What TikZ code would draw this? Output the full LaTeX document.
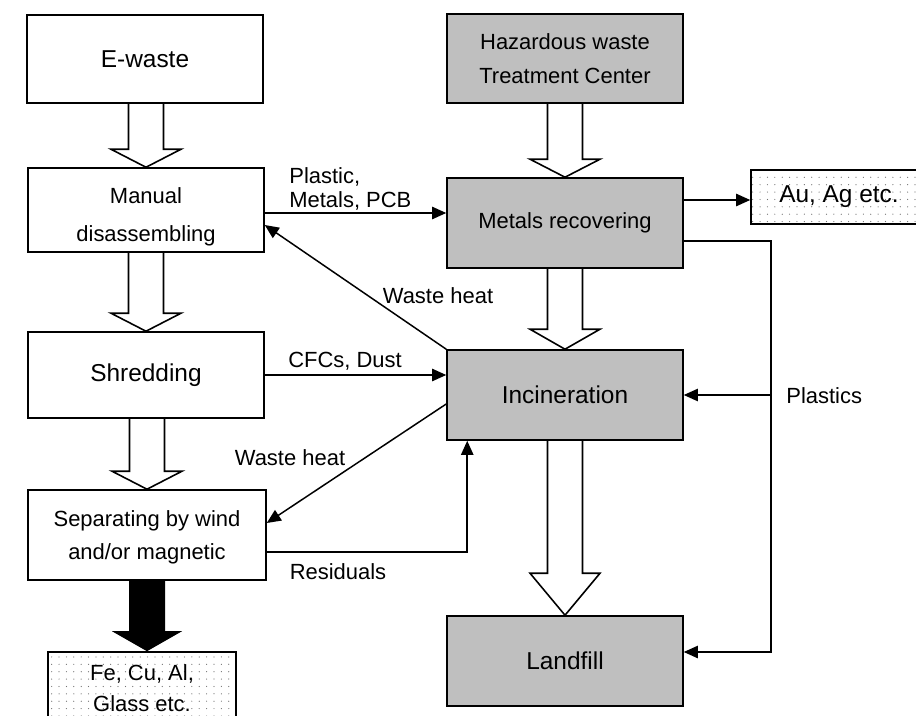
\documentclass[tikz,border=0pt]{standalone}
\usepackage{fontspec}
\setmainfont{Liberation Sans}
\usetikzlibrary{arrows.meta,calc,patterns.meta}
\newcommand{\txt}{\fontsize{12.5}{19}\selectfont}
\newcommand{\bigtxt}{\fontsize{13.9}{19}\selectfont}
\begin{document}
\begin{tikzpicture}[x=0.02cm, y=-0.02cm, line join=miter, >={Triangle[length=8pt,width=7pt]},
	box/.style={draw, line width=0.9pt, minimum width=4.72cm, align=center, font=\txt},
	grey/.style={box, fill=black!25},
	dotbox/.style={pattern={Dots[distance=4.2pt,radius=0.35pt]}, pattern color=black!55},
	hollow/.style={draw, line width=0.9pt},
	flow/.style={->, line width=0.85pt},
	lbl/.style={font=\txt, inner sep=0pt}]
	\useasboundingbox (0,0) rectangle (916,716);
	\clip (0,0) rectangle (916,716);
	% left column
	\node[box, font=\bigtxt, minimum height=1.76cm] (ewaste) at (145,59) {E-waste};
	\node[box, minimum height=1.6cm, font={\fontsize{12.5}{21.5}\selectfont}] (manual) at (146,210) {\rule{0pt}{17pt}Manual\\disassembling};
	\node[box, font=\bigtxt, minimum height=1.72cm] (shred) at (146,375) {Shredding};
	\node[box, minimum height=1.8cm, minimum width=4.76cm, font={\fontsize{12.5}{18.7}\selectfont}] (sep) at (147,535) {\rule{0pt}{12pt}Separating by wind\\and/or magnetic};
	\node[box, dotbox, minimum width=3.76cm, minimum height=1.44cm, font={\fontsize{12.5}{17.6}\selectfont}] (metal) at (142,688) {Fe, Cu, Al,\\Glass etc.};
	% right column
	\node[grey, minimum height=1.78cm, font={\fontsize{12.5}{19.3}\selectfont}] (hazard) at (565,58.5) {Hazardous waste\\Treatment Center};
	\node[grey, minimum height=1.8cm] (metals) at (565,223) {Metals recovering};
	\node[grey, font=\bigtxt, minimum height=1.8cm] (incin) at (565,395) {Incineration};
	\node[grey, font=\bigtxt, minimum height=1.8cm] (landfill) at (565,661) {Landfill};
	\node[box, dotbox, font=\bigtxt, minimum width=3.52cm, minimum height=1.08cm] (gold) at (839,197) {Au, Ag etc.};
	% block arrows
	\foreach \a/\b/\h in {ewaste/manual/18, manual/shred/18, shred/sep/18, hazard/metals/18, metals/incin/20, incin/landfill/42}
	\draw[hollow] ($(\a.south -| \b.north)+(-17.5,0)$) -- ($(\b.north)+(-17.5,-\h)$) -- ++(-17.5,0) -- (\b.north) -- ($(\b.north)+(35,-\h)$) -- ++(-17.5,0) -- ($(\a.south -| \b.north)+(17.5,0)$);
	\fill[black] ($(sep.south)+(-18,0)$) -- ($(sep.south |- metal.north)+(-18,-20)$) -- ++(-17,0) -- (sep.south |- metal.north) -- ($(sep.south |- metal.north)+(35,-20)$) -- ++(-17,0) -- ($(sep.south)+(18,0)$) -- cycle;
	% thin connectors
	\draw[flow] ($(manual.east)+(0,3)$) -- ($(metals.west)+(0,-10)$);
	\draw[flow] (incin.north west) -- ($(manual.east)+(0,15)$);
	\draw[flow] (shred.east) -- (shred.east -| incin.west);
	\draw[flow] ($(incin.west)+(0,9)$) -- ($(sep.east)+(0,-12)$);
	\draw[flow] ($(sep.east)+(0,17)$) -| ($(incin.south west)+(21,0)$);
	\draw[flow] ($(metals.east)+(0,-23)$) -- ($(gold.west)+(0,3)$);
	\coordinate (turn) at ($(metals.east)+(87,18)$);
	\draw[flow] ($(metals.east)+(0,18)$) -- (turn) |- ($(landfill.east)+(0,-9)$);
	\draw[flow] (turn |- incin.east) -- (incin.east);
	% labels
	\node[lbl, anchor=south west, align=left, font={\fontsize{12.5}{13.6}\selectfont}] (pmp) at (289,211) {Plastic,\\Metals, PCB};
	\node[lbl] (wh1) at (438,296) {Waste heat};
	\node[lbl] (cfc) at (345,361) {CFCs, Dust};
	\node[lbl] (wh2) at (290,458) {Waste heat};
	\node[lbl] (res) at (338,572) {Residuals};
	\node[lbl, anchor=west] (plast) at (786,396) {Plastics};
\end{tikzpicture}
\end{document}
